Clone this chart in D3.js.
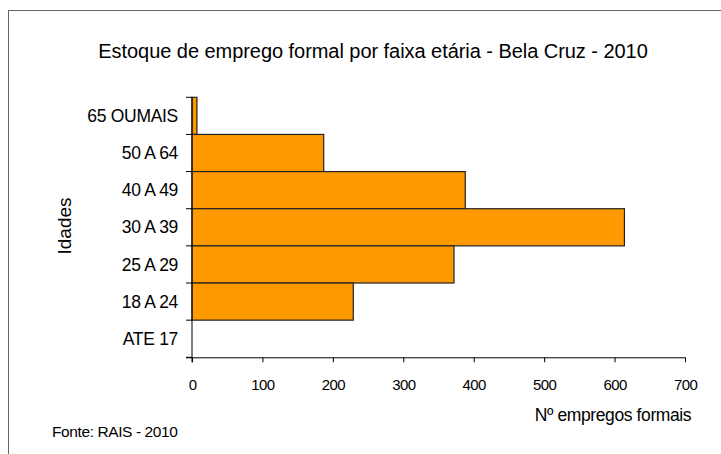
<!DOCTYPE html>
<html>
<head>
<meta charset="utf-8">
<script src="https://cdn.jsdelivr.net/npm/d3@7"></script>
<style>
  body { margin: 0; background: #fff; }
  svg text { font-family: "Liberation Sans", Arial, sans-serif; fill: #000; }
</style>
</head>
<body>
<div id="chartdiv"></div>
<script>
// categories from top to bottom, as in the picture
var categories = ["65 OUMAIS", "50 A 64", "40 A 49", "30 A 39", "25 A 29", "18 A 24", "ATE 17"];
var values = [7, 187, 388, 614, 372, 229, 0];
var xTicks = [0, 100, 200, 300, 400, 500, 600, 700];

var W = 721, H = 454;

var svg = d3.select("#chartdiv").append("svg")
    .attr("width", W)
    .attr("height", H);

// outer frame (runs off the right and bottom of the picture)
svg.append("rect")
    .attr("x", 8.5)
    .attr("y", 10.5)
    .attr("width", 760)
    .attr("height", 500)
    .attr("fill", "none")
    .attr("stroke", "#666")
    .attr("stroke-width", 1);

svg.append("text")
    .attr("x", 373)
    .attr("y", 58)
    .attr("text-anchor", "middle")
    .style("font-size", "20px")
    .style("letter-spacing", "-0.05px")
    .text("Estoque de emprego formal por faixa etária - Bela Cruz - 2010");

var xScale = d3.scaleLinear()
    .domain([0, 700])
    .range([192, 685]);

var yScale = d3.scaleBand()
    .domain(categories)
    .range([97.3, 357.3])
    .paddingInner(0)
    .paddingOuter(0);

var data = categories.map(function(c, i) {
    return { cat: c, value: values[i] };
});

// bars
svg.append("g")
    .selectAll("rect")
    .data(data.filter(function(d) { return d.value > 0; }))
    .enter()
    .append("rect")
    .attr("x", xScale(0))
    .attr("y", function(d) { return yScale(d.cat); })
    .attr("width", function(d) { return xScale(d.value) - xScale(0); })
    .attr("height", yScale.bandwidth())
    .attr("fill", "#FF9900")
    .attr("stroke", "#222")
    .attr("stroke-width", 1.2);

// x axis
var xAxis = d3.axisBottom(xScale)
    .tickValues(xTicks)
    .tickSize(5)
    .tickPadding(17)
    .tickFormat(d3.format("d"));

var gx = svg.append("g")
    .attr("transform", "translate(0," + yScale.range()[1] + ")")
    .call(xAxis);
gx.select(".domain").attr("d", "M186,0.5H" + xScale(700));
gx.selectAll("text")
    .style("font-size", "15px")
    .style("letter-spacing", "-0.6px")
    .style("font-family", "Liberation Sans, Arial, sans-serif");
gx.selectAll("line, path").attr("stroke", "#000");

// y axis: labels at band centres, ticks at band edges
var gy = svg.append("g");
gy.append("line")
    .attr("x1", xScale(0))
    .attr("x2", xScale(0))
    .attr("y1", yScale.range()[0])
    .attr("y2", yScale.range()[1] + 5)
    .attr("stroke", "#000");

var edges = categories.map(function(c) { return yScale(c); }).concat([yScale.range()[1]]);
gy.selectAll("line.tick")
    .data(edges)
    .enter()
    .append("line")
    .attr("class", "tick")
    .attr("x1", xScale(0) - 6)
    .attr("x2", xScale(0))
    .attr("y1", function(d) { return d; })
    .attr("y2", function(d) { return d; })
    .attr("stroke", "#000");

gy.selectAll("text")
    .data(categories)
    .enter()
    .append("text")
    .attr("x", 178)
    .attr("y", function(d) { return yScale(d) + yScale.bandwidth() / 2; })
    .attr("dy", "0.35em")
    .attr("text-anchor", "end")
    .style("font-size", "17.5px")
    .style("letter-spacing", "-0.3px")
    .text(function(d) { return d; });

// axis titles
svg.append("text")
    .attr("transform", "translate(71,226) rotate(-90)")
    .attr("text-anchor", "middle")
    .style("font-size", "19px")
    .text("Idades");

svg.append("text")
    .attr("x", 613)
    .attr("y", 421)
    .attr("text-anchor", "middle")
    .style("font-size", "17.5px")
    .style("letter-spacing", "-0.4px")
    .text("Nº empregos formais");

svg.append("text")
    .attr("x", 52)
    .attr("y", 437)
    .style("font-size", "15.5px")
    .style("letter-spacing", "-0.4px")
    .text("Fonte: RAIS - 2010");
</script>
</body>
</html>
